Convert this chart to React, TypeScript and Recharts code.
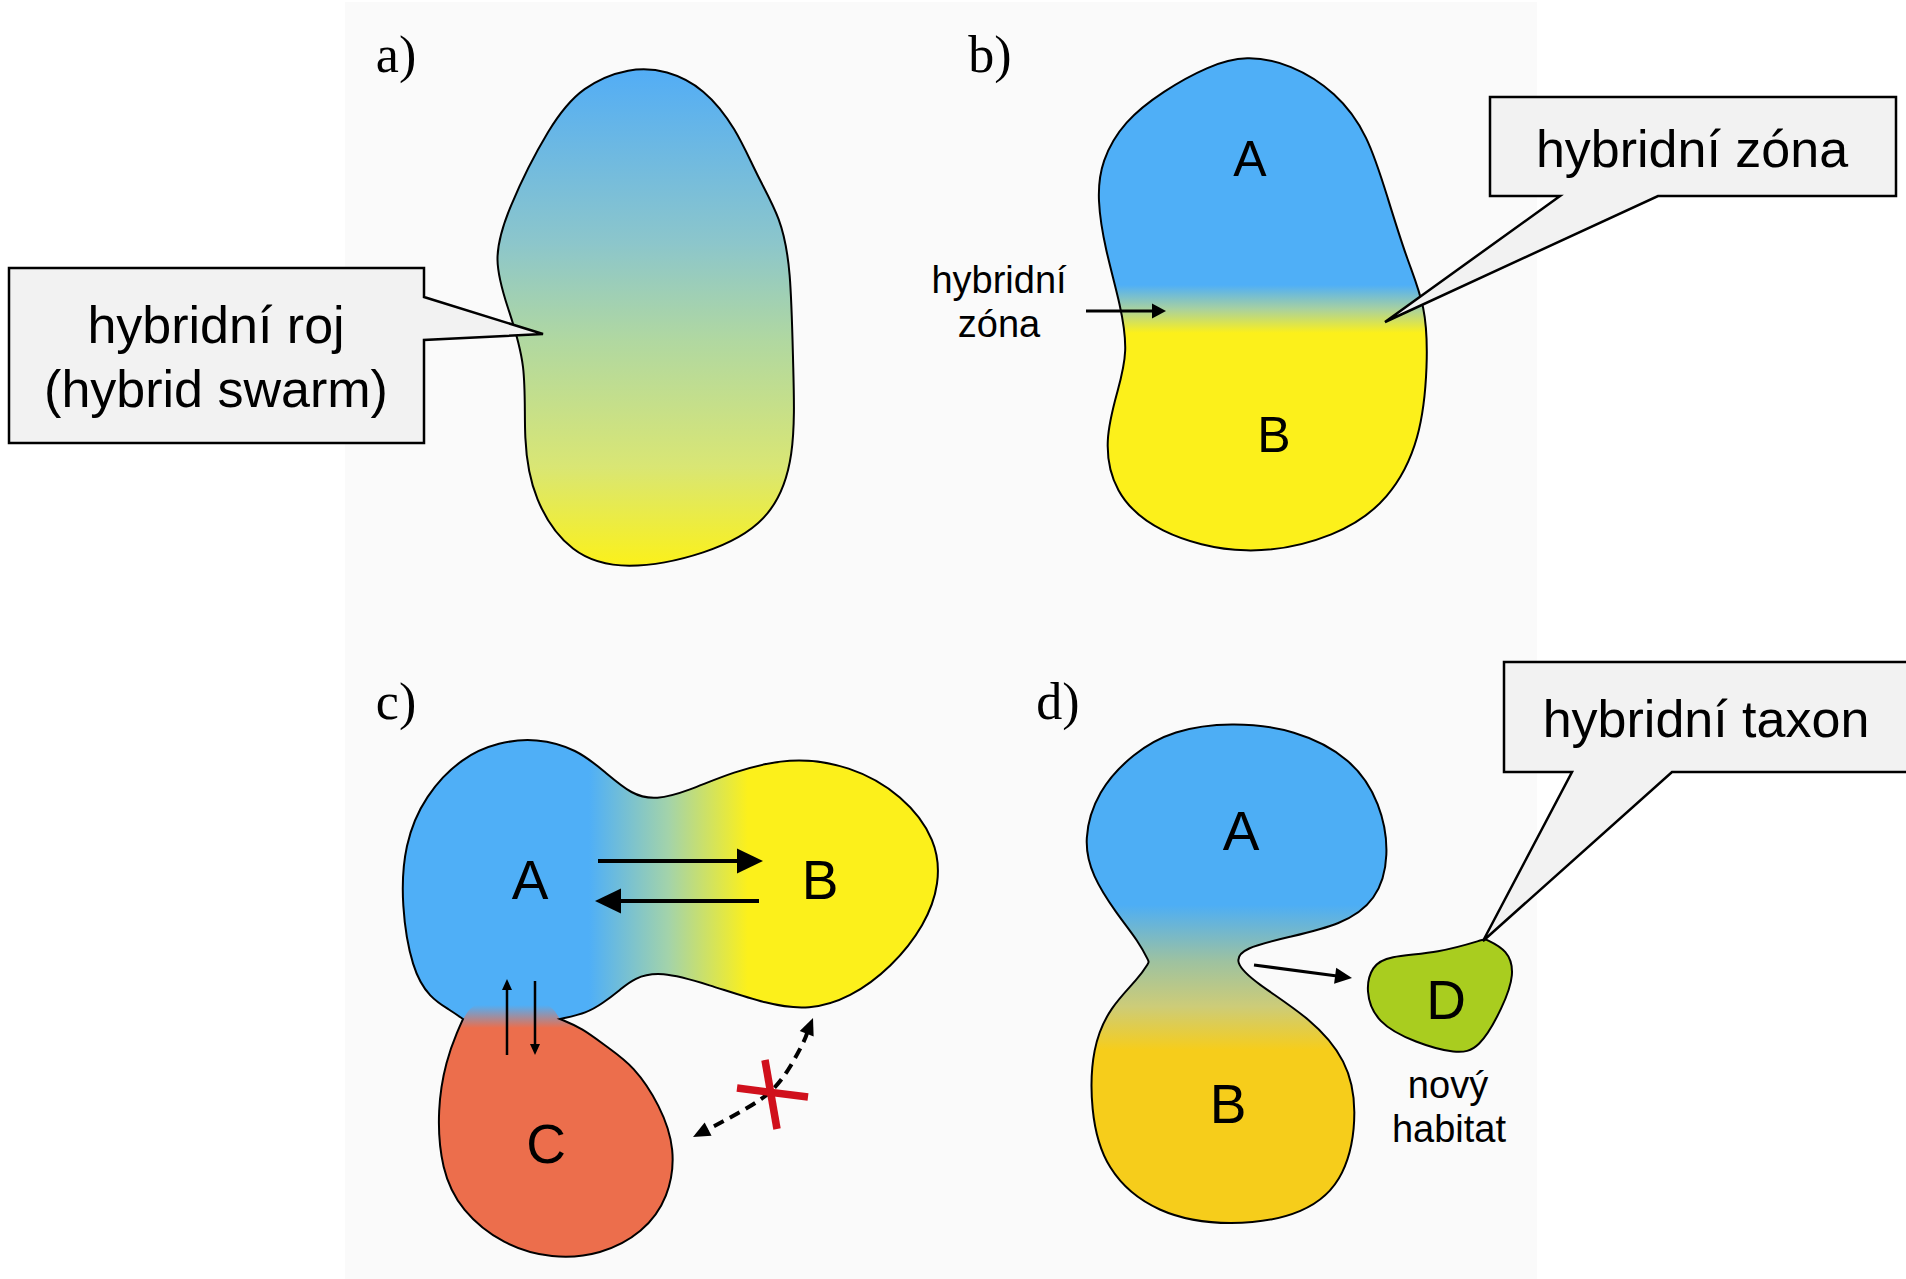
import { ScatterChart, Scatter, XAxis, YAxis, ReferenceArea, Curve } from "recharts";

type Pt = [number, number];
type Label = { text: string; x: number; y: number };

// picture size, the axes map 1:1 onto it
const W = 1906;
const H = 1279;

// light backdrop behind the four panels
const backdrop = { x1: 345, x2: 1537, y1: 2, y2: 1279 };

// a) hybrid swarm
const swarmOutline: Pt[] = [
  [630, 67], [667, 70], [704, 88], [736, 128], [757, 176], [781, 218], [791, 268],
  [793, 364], [796, 459], [770, 523], [706, 555], [625, 571], [570, 555], [533, 500],
  [523, 440], [527, 364], [507, 306], [493, 260], [506, 212], [550, 124], [582, 86],
];

// b) hybrid zone
const zoneOutline: Pt[] = [
  [1246, 55], [1291, 64], [1336, 92], [1368, 134], [1388, 199], [1407, 260], [1426, 306],
  [1428, 364], [1421, 440], [1390, 500], [1338, 537], [1246, 558], [1155, 533], [1113, 492],
  [1104, 440], [1118, 390], [1128, 352], [1121, 306], [1105, 249], [1097, 199], [1101, 161],
  [1124, 121], [1163, 91], [1208, 66],
];

// c) introgression: A+B+C as one outline, C part again for the red fill
const introOutline: Pt[] = [
  [536, 738], [577, 749], [605, 772], [632, 795], [656, 800], [688, 791], [732, 772],
  [789, 757], [850, 765], [903, 795], [937, 840], [940, 884], [925, 925], [892, 967],
  [850, 998], [809, 1010], [769, 1005], [707, 984], [660, 971], [634, 978], [620, 990],
  [603, 1003], [587, 1013], [560, 1019], [560, 1019], [560, 1019], [582, 1028], [607, 1047],
  [634, 1066], [660, 1105], [676, 1149], [669, 1198], [643, 1233], [601, 1255], [552, 1259],
  [503, 1245], [461, 1211], [441, 1170], [437, 1109], [446, 1060], [458, 1030], [463, 1019],
  [463, 1019], [463, 1019], [450, 1010], [430, 998], [412, 970], [401, 905], [404, 844],
  [425, 795], [462, 757], [499, 742],
];
const introLobeC: Pt[] = [
  [560, 1019], [560, 1019], [560, 1019], [582, 1028], [607, 1047], [634, 1066], [660, 1105],
  [676, 1149], [669, 1198], [643, 1233], [601, 1255], [552, 1259], [503, 1245], [461, 1211],
  [441, 1170], [437, 1109], [446, 1060], [458, 1030], [463, 1019], [463, 1019], [463, 1019],
  [478, 996], [545, 996],
];

// d) hybrid taxon
const taxonParents: Pt[] = [
  [1231, 722], [1295, 729], [1352, 758], [1381, 803], [1390, 856], [1377, 901], [1341, 925],
  [1289, 937], [1243, 948], [1234, 962], [1254, 982], [1312, 1019], [1347, 1060], [1358, 1109],
  [1347, 1178], [1306, 1215], [1231, 1227], [1156, 1215], [1104, 1170], [1090, 1109],
  [1092, 1047], [1110, 1007], [1139, 978], [1149, 962], [1149, 962], [1139, 942], [1116, 913],
  [1092, 876], [1083, 840], [1097, 791], [1133, 753], [1173, 730],
];
const taxonNew: Pt[] = [
  [1387, 956], [1439, 953], [1485, 939], [1485, 939], [1508, 950], [1515, 974], [1503, 1007],
  [1479, 1050], [1456, 1054], [1416, 1043], [1376, 1023], [1365, 990], [1372, 966],
];

// callout boxes
const calloutSwarm: Pt[] = [[9, 268], [424, 268], [424, 297], [543, 334], [424, 340], [424, 443], [9, 443]];
const calloutZone: Pt[] = [[1490, 97], [1896, 97], [1896, 196], [1658, 196], [1385, 322], [1560, 196], [1490, 196]];
const calloutTaxon: Pt[] = [[1504, 662], [1912, 662], [1912, 772], [1672, 772], [1483, 941], [1572, 772], [1504, 772]];

// arrows, tail -> tip
const zoneArrow: Pt[] = [[1086, 311], [1166, 311]];
const flowAB: Pt[] = [[598, 861], [763, 861]];
const flowBA: Pt[] = [[759, 901], [595, 901]];
const flowCA: Pt[] = [[507, 1055], [507, 979]];
const flowAC: Pt[] = [[535, 981], [535, 1055]];
const blockedFlow: Pt[] = [[813, 1018], [803, 1043], [788, 1070], [770, 1092], [747, 1108], [720, 1123], [693, 1137]];
const escapeArrow: Pt[] = [[1254, 965], [1352, 978]];
const crossA: Pt[] = [[765, 1060], [777, 1129]];
const crossB: Pt[] = [[737, 1088], [808, 1097]];

// texts (x = centre, y = baseline)
const panelTags: Label[] = [
  { text: "a)", x: 396, y: 72 },
  { text: "b)", x: 990, y: 72 },
  { text: "c)", x: 396, y: 719 },
  { text: "d)", x: 1058, y: 719 },
];
const zoneLetters: Label[] = [
  { text: "A", x: 1250, y: 176 },
  { text: "B", x: 1274, y: 452 },
];
const otherLetters: Label[] = [
  { text: "A", x: 530, y: 899 },
  { text: "B", x: 820, y: 899 },
  { text: "C", x: 546, y: 1163 },
  { text: "A", x: 1241, y: 850 },
  { text: "B", x: 1228, y: 1123 },
  { text: "D", x: 1446, y: 1019 },
];
const calloutLabels: Label[] = [
  { text: "hybridní roj", x: 216, y: 343 },
  { text: "(hybrid swarm)", x: 216, y: 407 },
  { text: "hybridní zóna", x: 1692, y: 167 },
  { text: "hybridní taxon", x: 1706, y: 737 },
];
const noteLabels: Label[] = [
  { text: "hybridní", x: 999, y: 293 },
  { text: "zóna", x: 999, y: 337 },
  { text: "nový", x: 1448, y: 1098 },
  { text: "habitat", x: 1449, y: 1142 },
];

const SANS = "'Liberation Sans', Arial, sans-serif";
const SERIF = "'Liberation Serif', 'Times New Roman', serif";

const toPoints = (list: Pt[]) => list.map(([x, y]) => ({ x, y }));
const hidden = () => <g />;

type P = { x: number; y: number };

const headAt = (from: P, to: P, len: number, wide: number) => {
  const d = Math.hypot(to.x - from.x, to.y - from.y) || 1;
  const ux = (to.x - from.x) / d;
  const uy = (to.y - from.y) / d;
  const bx = to.x - ux * len;
  const by = to.y - uy * len;
  return {
    base: { x: bx + ux * 2, y: by + uy * 2 },
    poly: `${to.x},${to.y} ${bx - (uy * wide) / 2},${by + (ux * wide) / 2} ${bx + (uy * wide) / 2},${by - (ux * wide) / 2}`,
  };
};

const arrowLine =
  (w: number, len: number, wide: number, both = false, dash?: string, kind: any = "linear") =>
  (p: any) => {
    const src: P[] = p.points;
    const n = src.length;
    const shaft = src.slice();
    const end = headAt(src[n - 2], src[n - 1], len, wide);
    shaft[n - 1] = end.base;
    const start = both ? headAt(src[1], src[0], len, wide) : null;
    if (start) shaft[0] = start.base;
    return (
      <g>
        <Curve points={shaft} type={kind} fill="none" stroke="#000" strokeWidth={w} strokeDasharray={dash} />
        <polygon points={end.poly} fill="#000" />
        {start && <polygon points={start.poly} fill="#000" />}
      </g>
    );
  };

const blobLine = (fill: string, stroke: string, kind: any = "basisClosed", sw = 2) => (p: any) =>
  <Curve points={p.points} type={kind} fill={fill} stroke={stroke} strokeWidth={sw} strokeLinejoin="miter" />;

const plainLine = (color: string, w: number) => (p: any) =>
  <Curve points={p.points} type="linear" fill="none" stroke={color} strokeWidth={w} />;

const words = (size: number, family: string) => (p: any) =>
  (
    <text x={p.cx} y={p.cy} textAnchor="middle" fontSize={size} fontFamily={family} fill="#000">
      {p.payload.text}
    </text>
  );

const layer = (key: string, list: Pt[], draw: any) => (
  <Scatter key={key} data={toPoints(list)} shape={hidden} line={draw} isAnimationActive={false} />
);

const textLayer = (key: string, list: Label[], size: number, family: string) => (
  <Scatter key={key} data={list} shape={words(size, family)} isAnimationActive={false} />
);

const App = () => {
  return (
    <div style={{ position: "absolute", left: 0, top: 0, background: "#fff" }}>
      <ScatterChart width={W} height={H} margin={{ top: 0, right: 0, bottom: 0, left: 0 }}>
        <defs>
          <linearGradient id="swarmFill" gradientUnits="userSpaceOnUse" x1="0" y1="69" x2="0" y2="566">
            <stop offset="0" stopColor="#52adf6" />
            <stop offset="0.35" stopColor="#8cc6cb" />
            <stop offset="0.55" stopColor="#b1d8a0" />
            <stop offset="0.8" stopColor="#d9e674" />
            <stop offset="1" stopColor="#fbf11a" />
          </linearGradient>
          <linearGradient id="zoneFill" gradientUnits="userSpaceOnUse" x1="0" y1="285" x2="0" y2="333">
            <stop offset="0" stopColor="#4faff7" />
            <stop offset="0.5" stopColor="#a8d1a0" />
            <stop offset="1" stopColor="#fcf01b" />
          </linearGradient>
          <linearGradient id="introFill" gradientUnits="userSpaceOnUse" x1="589" y1="0" x2="748" y2="0">
            <stop offset="0" stopColor="#4faff7" />
            <stop offset="0.5" stopColor="#a3d3aa" />
            <stop offset="1" stopColor="#fcf01b" />
          </linearGradient>
          <linearGradient id="introRed" gradientUnits="userSpaceOnUse" x1="0" y1="1005" x2="0" y2="1028">
            <stop offset="0" stopColor="#ec6e4c" stopOpacity="0" />
            <stop offset="1" stopColor="#ec6e4c" stopOpacity="1" />
          </linearGradient>
          <linearGradient id="taxonFill" gradientUnits="userSpaceOnUse" x1="0" y1="905" x2="0" y2="1050">
            <stop offset="0" stopColor="#4daef5" />
            <stop offset="0.39" stopColor="#9ec2a0" />
            <stop offset="0.7" stopColor="#cdcc78" />
            <stop offset="1" stopColor="#f6cd1b" />
          </linearGradient>
        </defs>
        <XAxis type="number" dataKey="x" domain={[0, W]} allowDataOverflow hide />
        <YAxis type="number" dataKey="y" domain={[0, H]} allowDataOverflow reversed hide />
        <ReferenceArea {...backdrop} fill="#fafafa" fillOpacity={1} stroke="none" />

        {layer("swarm", swarmOutline, blobLine("url(#swarmFill)", "#000"))}
        {layer("zone", zoneOutline, blobLine("url(#zoneFill)", "#000"))}
        {layer("introFill", introOutline, blobLine("url(#introFill)", "none"))}
        {layer("introC", introLobeC, blobLine("url(#introRed)", "none"))}
        {layer("introEdge", introOutline, blobLine("none", "#000"))}
        {layer("parents", taxonParents, blobLine("url(#taxonFill)", "#000"))}
        {layer("newTaxon", taxonNew, blobLine("#a9cd1f", "#000"))}

        {layer("calloutSwarm", calloutSwarm, blobLine("#f2f2f2", "#000", "linearClosed", 2.5))}
        {layer("calloutZone", calloutZone, blobLine("#f2f2f2", "#000", "linearClosed", 2.5))}
        {layer("calloutTaxon", calloutTaxon, blobLine("#f2f2f2", "#000", "linearClosed", 2.5))}

        {layer("zoneArrow", zoneArrow, arrowLine(3, 14, 15))}
        {layer("flowAB", flowAB, arrowLine(4, 26, 25))}
        {layer("flowBA", flowBA, arrowLine(4, 26, 25))}
        {layer("flowCA", flowCA, arrowLine(2.5, 11, 10))}
        {layer("flowAC", flowAC, arrowLine(2.5, 11, 10))}
        {layer("blocked", blockedFlow, arrowLine(4, 17, 15, true, "11 7", "natural"))}
        {layer("escape", escapeArrow, arrowLine(3, 17, 16))}
        {layer("crossA", crossA, plainLine("#d0101c", 7.5))}
        {layer("crossB", crossB, plainLine("#d0101c", 7.5))}

        {textLayer("tags", panelTags, 52, SERIF)}
        {textLayer("zoneLetters", zoneLetters, 50, SANS)}
        {textLayer("letters", otherLetters, 55, SANS)}
        {textLayer("callouts", calloutLabels, 52, SANS)}
        {textLayer("notes", noteLabels, 38, SANS)}
      </ScatterChart>
    </div>
  );
};

export default App;
